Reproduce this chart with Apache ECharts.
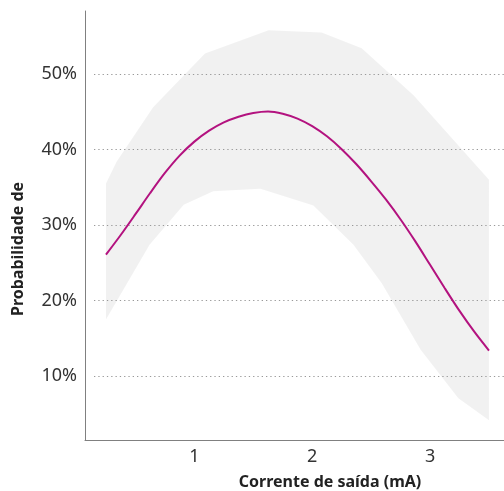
<!DOCTYPE html>
<html>
<head>
<meta charset="utf-8">
<script src="https://cdn.jsdelivr.net/npm/echarts@6/dist/echarts.min.js"></script>
<style>html,body{margin:0;padding:0;background:#fff}#c{width:504px;height:491px}</style>
</head>
<body>
<div id="c"></div>
<script>
// Fitted curve (probability, %) vs output current (mA)
var curveX = [0.25, 0.375, 0.5, 0.625, 0.75, 0.875, 1.0, 1.125, 1.25, 1.375, 1.5, 1.625, 1.75, 1.875,
              2.0, 2.125, 2.25, 2.375, 2.5, 2.625, 2.75, 2.875, 3.0, 3.125, 3.25, 3.375, 3.5];
var curveY = [26.1, 28.7, 31.45, 34.25, 36.9, 39.2, 41.05, 42.5, 43.6, 44.35, 44.85, 45.05, 44.75, 44.1,
              43.1, 41.75, 40.05, 38.05, 35.8, 33.4, 30.75, 27.85, 24.75, 21.65, 18.65, 15.9, 13.4];
// Confidence band edges
var upperX = [0.25, 0.34, 0.65, 1.09, 1.63, 2.08, 2.42, 2.86, 3.5];
var upperY = [35.5, 38.4, 45.6, 52.7, 55.8, 55.5, 53.4, 47.2, 36.0];
var lowerX = [0.25, 0.62, 0.91, 1.16, 1.56, 2.01, 2.35, 2.59, 2.92, 3.24, 3.5];
var lowerY = [17.5, 27.4, 32.7, 34.5, 34.8, 32.6, 27.4, 22.3, 13.5, 7.1, 4.2];
// Ticks
var yTicks = [10, 20, 30, 40, 50];
var xTicks = [1, 2, 3];
var xTitle = 'Corrente de saída (mA)';
var yTitle = 'Probabilidade de';

var chart = echarts.init(document.getElementById('c'), null, {renderer: 'canvas'});

var curveData = curveX.map(function (x, i) { return [x, curveY[i]]; });
var bandData = [[upperX[0], upperY[0]]];

var font = '"Noto Sans", "Open Sans", sans-serif';

var option = {
  backgroundColor: '#ffffff',
  animation: false,
  grid: [
    // A: axis lines + x title
    {left: 85, top: 11, width: 490, height: 429, outerBoundsMode: 'none', containLabel: false},
    // B: x tick labels (x=0 aligned)
    {left: 76.5, top: 11, width: 471.4, height: 429, outerBoundsMode: 'none', containLabel: false},
    // C: y gridlines, y labels, data
    {left: 94, top: -1.6, width: 420, height: 377.9, outerBoundsMode: 'none', containLabel: false}
  ],
  xAxis: [
    {gridIndex: 0, type: 'value', min: 0.072, max: 4.23,
     axisLine: {show: true, lineStyle: {color: '#808080', width: 1}},
     axisTick: {show: false}, axisLabel: {show: false}, splitLine: {show: false},
     name: xTitle, nameLocation: 'middle', nameGap: 34,
     nameTextStyle: {fontFamily: font, fontSize: 16, fontWeight: 'bold', color: '#222'}},
    {gridIndex: 1, type: 'value', min: 0, max: 4, interval: 1,
     axisLine: {show: false}, axisTick: {show: false}, splitLine: {show: false},
     axisLabel: {show: true, margin: 8, fontFamily: font, fontSize: 18, color: '#333',
       showMinLabel: false, showMaxLabel: false,
       formatter: function (v) { return xTicks.indexOf(v) >= 0 ? String(v) : ''; }}},
    {gridIndex: 2, type: 'value', min: 0.1484, max: 3.7122, show: false}
  ],
  yAxis: [
    {gridIndex: 0, type: 'value', min: 0, max: 1,
     axisLine: {show: true, lineStyle: {color: '#808080', width: 1}},
     axisTick: {show: false}, axisLabel: {show: false}, splitLine: {show: false}},
    {gridIndex: 1, type: 'value', min: 0, max: 1, show: false},
    {gridIndex: 2, type: 'value', min: 10, max: 60, interval: 10, z: 10,
     axisLine: {show: false}, axisTick: {show: false},
     axisLabel: {show: true, margin: 17, fontFamily: font, fontSize: 18, color: '#333',
       showMaxLabel: false,
       formatter: function (v) { return yTicks.indexOf(v) >= 0 ? v + '%' : ''; }},
     splitLine: {show: true, showMaxLine: false,
       lineStyle: {color: '#999999', width: 1, type: [1.3, 3]}}}
  ],
  graphic: [
    {type: 'text', x: 18.5, y: 249, rotation: Math.PI / 2,
     style: {text: yTitle, fontFamily: font, fontSize: 16, fontWeight: 'bold', fill: '#222',
       textAlign: 'center', textVerticalAlign: 'middle'}}
  ],
  series: [
    {type: 'custom', xAxisIndex: 2, yAxisIndex: 2, z: 1, clip: false,
     data: bandData,
     renderItem: function (params, api) {
       var pts = [];
       for (var i = 0; i < upperX.length; i++) pts.push(api.coord([upperX[i], upperY[i]]));
       for (var j = lowerX.length - 1; j >= 0; j--) pts.push(api.coord([lowerX[j], lowerY[j]]));
       return {type: 'polygon', shape: {points: pts},
               style: {fill: 'rgba(0,0,0,0.055)', stroke: null}};
     }},
    {type: 'line', xAxisIndex: 2, yAxisIndex: 2, z: 20, clip: false,
     data: curveData, smooth: 0.3, showSymbol: false, symbol: 'none',
     lineStyle: {color: '#b3127f', width: 2}}
  ]
};
chart.setOption(option);
</script>
</body>
</html>
